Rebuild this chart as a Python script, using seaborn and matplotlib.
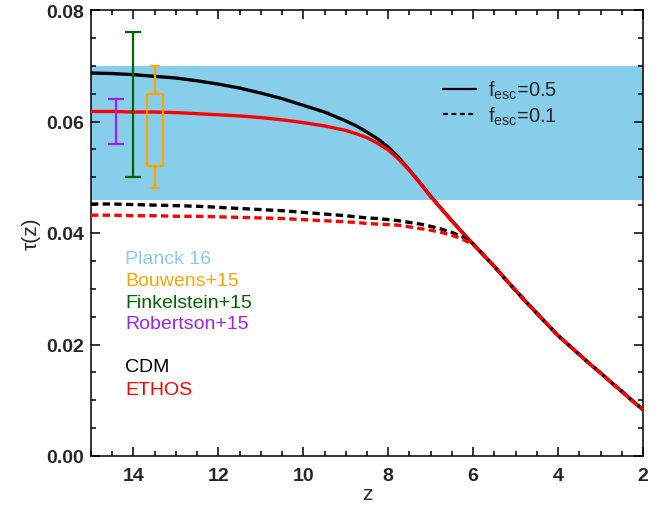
import numpy as np
import pandas as pd
import matplotlib
matplotlib.use("Agg")
import matplotlib.pyplot as plt
import seaborn as sns
from matplotlib.lines import Line2D

# ---------------- data ----------------
z_grid = [15, 14.5, 14, 13.5, 13, 12.5, 12, 11.5, 11, 10.5, 10, 9.5, 9,
          8.75, 8.5, 8.25, 8, 7.75, 7.5, 7.25, 7, 6.75, 6.5, 6.25,
          6, 5.75, 5.5, 5.25, 5, 4.75, 4.5, 4.25, 4, 3.75, 3.5, 3.25, 3, 2.75, 2.5, 2.25, 2]
cdm_f05 = [0.0687, 0.0686, 0.0684, 0.0681, 0.0678, 0.0673, 0.0667, 0.0660, 0.0651, 0.0641, 0.0629, 0.0617, 0.0601,
           0.0592, 0.0581, 0.0569, 0.0554, 0.0535, 0.0513, 0.0490, 0.0466, 0.0444, 0.0422, 0.0401,
           0.0380, 0.0360, 0.0340, 0.0318, 0.0297, 0.0276, 0.0256, 0.0236, 0.0216, 0.0199, 0.0182, 0.0165, 0.0149,
           0.0132, 0.0116, 0.0099, 0.0083]
ethos_f05 = [0.0618, 0.0618, 0.0617, 0.0617, 0.0616, 0.0614, 0.0612, 0.0610, 0.0607, 0.0603, 0.0598, 0.0592, 0.0584,
             0.0578, 0.0571, 0.0561, 0.0549, 0.0532, 0.0512, 0.0489, 0.0465, 0.0443, 0.0421, 0.0400,
             0.0380, 0.0360, 0.0340, 0.0318, 0.0297, 0.0276, 0.0256, 0.0236, 0.0216, 0.0199, 0.0182, 0.0165, 0.0149,
             0.0132, 0.0116, 0.0099, 0.0083]
cdm_f01 = [0.0452, 0.0452, 0.0451, 0.0450, 0.0449, 0.0448, 0.0446, 0.0444, 0.0442, 0.0440, 0.0437, 0.0434, 0.0431,
           0.0429, 0.0427, 0.0426, 0.0424, 0.0422, 0.0419, 0.0416, 0.0412, 0.0407, 0.0401, 0.0393,
           0.0381, 0.0360, 0.0340, 0.0318, 0.0297, 0.0276, 0.0256, 0.0236, 0.0216, 0.0199, 0.0182, 0.0165, 0.0149,
           0.0132, 0.0116, 0.0099, 0.0083]
ethos_f01 = [0.0432, 0.0432, 0.0431, 0.0431, 0.0430, 0.0430, 0.0429, 0.0428, 0.0427, 0.0426, 0.0424, 0.0422, 0.0420,
             0.0419, 0.0417, 0.0416, 0.0415, 0.0414, 0.0411, 0.0408, 0.0405, 0.0401, 0.0396, 0.0389,
             0.0379, 0.0360, 0.0340, 0.0318, 0.0297, 0.0276, 0.0256, 0.0236, 0.0216, 0.0199, 0.0182, 0.0165, 0.0149,
             0.0132, 0.0116, 0.0099, 0.0083]

planck_band = (0.046, 0.070)
# observational constraints
robertson_z, robertson_lo, robertson_hi = 14.42, 0.056, 0.064
finkel_z, finkel_lo, finkel_hi = 14.0, 0.050, 0.076
bouwens_z = 13.5
bouwens_whislo, bouwens_q1, bouwens_q3, bouwens_whishi = 0.048, 0.052, 0.065, 0.070

labels = ["Planck 16", "Bouwens+15", "Finkelstein+15", "Robertson+15"]
model_labels = ["CDM", "ETHOS"]

# ---------------- style ----------------
sns.set_style("ticks")
plt.rcParams['font.family'] = ['Liberation Sans', 'DejaVu Sans']
plt.rcParams['mathtext.fontset'] = 'custom'
plt.rcParams['mathtext.rm'] = 'Liberation Sans'
plt.rcParams['mathtext.it'] = 'Liberation Sans:italic'

C_BLUE = '#87CEEB'
C_ORANGE = '#FFA500'
C_GREEN = '#006400'
C_PURPLE = '#A020F0'
DASH = (0, (2.2, 1.3))

fig = plt.figure(figsize=(6.62, 5.06), dpi=100)
ax = fig.add_axes([91/662, 1 - 457/506, (643-91)/662, (457-11)/506])

ax.axhspan(planck_band[0], planck_band[1], color=C_BLUE, lw=0, zorder=0)

n = len(z_grid)
df = pd.DataFrame({
    'z': z_grid * 4,
    'tau': cdm_f05 + ethos_f05 + cdm_f01 + ethos_f01,
    'model': ['CDM'] * n + ['ETHOS'] * n + ['CDM'] * n + ['ETHOS'] * n,
    'fesc': ['0.5'] * (2 * n) + ['0.1'] * (2 * n),
})

for fesc, ls in [('0.5', '-'), ('0.1', DASH)]:
    for model, col in [('CDM', 'black'), ('ETHOS', 'red')]:
        sub = df[(df.fesc == fesc) & (df.model == model)]
        sns.lineplot(data=sub, x='z', y='tau', color=col, lw=2.4, ax=ax,
                     linestyle=ls, sort=False, legend=False, zorder=3)

# error bars
ax.errorbar([robertson_z], [(robertson_lo + robertson_hi) / 2],
            yerr=[[(robertson_hi - robertson_lo) / 2], [(robertson_hi - robertson_lo) / 2]],
            color=C_PURPLE, capsize=6, lw=1.6, capthick=1.6, fmt='none', zorder=4)
ax.errorbar([finkel_z], [(finkel_lo + finkel_hi) / 2],
            yerr=[[(finkel_hi - finkel_lo) / 2], [(finkel_hi - finkel_lo) / 2]],
            color=C_GREEN, capsize=6, lw=1.6, capthick=1.6, fmt='none', zorder=4)
ax.bxp([{'med': bouwens_q1, 'q1': bouwens_q1, 'q3': bouwens_q3,
         'whislo': bouwens_whislo, 'whishi': bouwens_whishi, 'fliers': []}],
       positions=[bouwens_z], widths=0.38, showfliers=False, manage_ticks=False,
       boxprops=dict(color=C_ORANGE, lw=1.6),
       whiskerprops=dict(color=C_ORANGE, lw=1.6),
       capprops=dict(color=C_ORANGE, lw=1.6),
       medianprops=dict(color=C_ORANGE, lw=1.6), zorder=4)

# axes
ax.set_xlim(15, 2)
ax.set_ylim(0, 0.08)
ax.set_xticks([14, 12, 10, 8, 6, 4, 2])
ax.set_xticks(np.arange(2, 15.01, 0.5), minor=True)
ax.set_yticks([0.0, 0.02, 0.04, 0.06, 0.08])
ax.set_yticks(np.arange(0, 0.0801, 0.005), minor=True)
ax.set_yticklabels(["0.00", "0.02", "0.04", "0.06", "0.08"])
ax.tick_params(which='both', direction='in', top=True, right=True, width=1.1, color='black')
ax.tick_params(which='major', length=6.5, labelsize=14, pad=5)
ax.tick_params(axis='x', which='major', pad=8)
ax.tick_params(which='minor', length=3.4)
for lab in ax.get_xticklabels() + ax.get_yticklabels():
    lab.set_fontweight('bold')
for sp in ax.spines.values():
    sp.set_linewidth(1.1)
    sp.set_color('black')
ax.set_xlabel('z', fontsize=15, labelpad=0)
ax.set_ylabel(r'τ(z)', fontsize=15)

# text labels (pixel positions, top-left origin)
text_y = [260, 282, 303, 325]
for lab, col, yy in zip(labels, [C_BLUE, C_ORANGE, C_GREEN, C_PURPLE], text_y):
    ax.text(125 / 100, (506 - yy) / 100, lab, color=col, fontsize=14, va='center', ha='left',
            transform=fig.dpi_scale_trans)
for lab, col, yy in zip(model_labels, ['black', 'red'], [368, 391]):
    ax.text(125 / 100, (506 - yy) / 100, lab, color=col, fontsize=14, va='center', ha='left',
            transform=fig.dpi_scale_trans)

handles = [Line2D([], [], color='black', lw=1.6, ls='-'),
           Line2D([], [], color='black', lw=1.6, ls=(0, (2.2, 1.6)))]
ax.legend(handles, [r'f$_{\mathrm{esc}}$=0.5', r'f$_{\mathrm{esc}}$=0.1'],
          loc='upper left', bbox_to_anchor=(0.638, 0.845), frameon=False,
          fontsize=14.5, handlelength=1.65, handletextpad=0.6, labelspacing=0.15,
          borderpad=0, borderaxespad=0)

fig.savefig('out.png', dpi=100)
